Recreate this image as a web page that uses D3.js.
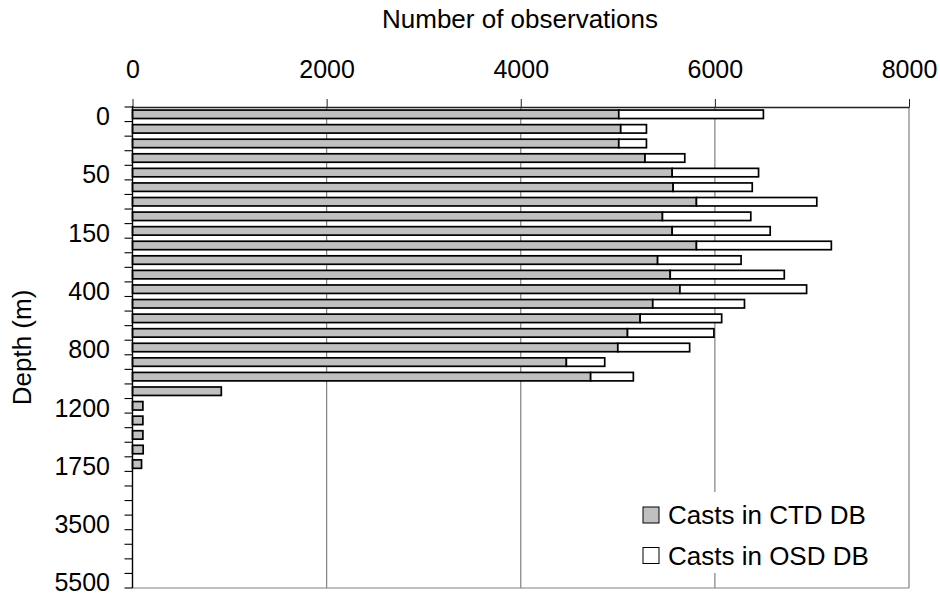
<!DOCTYPE html>
<html>
<head>
<meta charset="utf-8">
<script src="https://cdn.jsdelivr.net/npm/d3@7/dist/d3.min.js"></script>
<style>
  html, body { margin: 0; padding: 0; background: #fff; }
  svg { display: block; font-family: "Liberation Sans", Arial, sans-serif; }
</style>
</head>
<body>
<svg id="chart" width="940" height="595"></svg>
<script>
// Standard depth levels (m)
const depths = [0, 10, 20, 30, 50, 75, 100, 125, 150, 200, 250, 300, 400, 500, 600, 700,
  800, 900, 1000, 1100, 1200, 1300, 1400, 1500, 1750, 2000, 2500, 3000, 3500, 4000, 4500, 5000, 5500];
// Casts in CTD DB
const ctd = [5010, 5030, 5010, 5280, 5560, 5570, 5810, 5460, 5560, 5810, 5410, 5540, 5640, 5360, 5230, 5100,
  5000, 4470, 4720, 915, 107, 107, 107, 110, 93, 0, 0, 0, 0, 0, 0, 0, 0];
// Casts in OSD DB
const osd = [1490, 265, 285, 410, 890, 815, 1240, 910, 1010, 1390, 860, 1175, 1305, 945, 840, 890,
  740, 395, 440, 0, 0, 0, 0, 0, 0, 0, 0, 0, 0, 0, 0, 0, 0];
// Labelled depths on the vertical axis
const depthLabels = [0, 50, 150, 400, 800, 1200, 1750, 3500, 5500];
const xTicks = [0, 2000, 4000, 6000, 8000];
const seriesNames = ["Casts in CTD DB", "Casts in OSD DB"];
const seriesColors = ["#c0c0c0", "#ffffff"];

const svg = d3.select("#chart");
const L = 132.5, R = 909, T = 107, B = 588;

const x = d3.scaleLinear().domain([0, 8000]).range([L, R]);
const y = d3.scaleBand().domain(depths).range([T, B]).paddingInner(0.42).paddingOuter(0.21);
const yStep = d3.scaleBand().domain(depths).range([T, B]);

// gridlines
svg.append("g").selectAll("line").data(xTicks.slice(1)).join("line")
  .attr("x1", d => x(d)).attr("x2", d => x(d)).attr("y1", T).attr("y2", B)
  .attr("stroke", "#808080").attr("stroke-width", 1.2);
// bottom border
svg.append("line").attr("x1", L).attr("x2", R).attr("y1", B).attr("y2", B)
  .attr("stroke", "#808080").attr("stroke-width", 1.2);

// stacked data
const data = depths.map((d, i) => ({ depth: d, ctd: ctd[i], osd: osd[i] }));
const stack = d3.stack().keys(["ctd", "osd"]);
const series = stack(data);

svg.append("g").selectAll("g").data(series).join("g")
  .attr("fill", (s, i) => seriesColors[i])
  .selectAll("rect").data(s => s.filter(v => v[1] - v[0] > 0)).join("rect")
  .attr("x", v => x(v[0]))
  .attr("width", v => x(v[1]) - x(v[0]))
  .attr("y", v => y(v.data.depth))
  .attr("height", y.bandwidth())
  .attr("stroke", "#000").attr("stroke-width", 1.7);

// top axis
const axTop = svg.append("g").attr("transform", `translate(0,${T})`)
  .call(d3.axisTop(x).tickValues(xTicks).tickSize(8).tickPadding(21).tickSizeOuter(0).tickFormat(d3.format("d")));
axTop.select(".domain").attr("stroke", "#222").attr("stroke-width", 1.4);
axTop.selectAll(".tick line").attr("stroke", "#222").attr("stroke-width", 1);
axTop.selectAll("text").attr("font-size", 25).attr("fill", "#000")
  .attr("font-family", "'Liberation Sans', Arial, sans-serif");

// left axis line
svg.append("line").attr("x1", L).attr("x2", L).attr("y1", T - 1).attr("y2", B)
  .attr("stroke", "#000").attr("stroke-width", 1.4);
// left ticks at category boundaries
const bounds = depths.map(d => yStep(d)).concat([B]);
svg.append("g").selectAll("line").data(bounds).join("line")
  .attr("x1", L - 8).attr("x2", L).attr("y1", d => d).attr("y2", d => d)
  .attr("stroke", "#000").attr("stroke-width", 1.1);
// left labels
svg.append("g").selectAll("text").data(depthLabels).join("text")
  .attr("x", 110)
  .attr("y", d => yStep(d) + yStep.bandwidth() / 2 + 2)
  .attr("dy", "0.35em")
  .attr("text-anchor", "end")
  .attr("font-size", 25)
  .text(d => d);

// axis titles
svg.append("text").attr("x", 520).attr("y", 28).attr("text-anchor", "middle")
  .attr("font-size", 26).text("Number of observations");
svg.append("text").attr("transform", `translate(31,${(T + B) / 2}) rotate(-90)`)
  .attr("text-anchor", "middle").attr("font-size", 26).text("Depth (m)");

// legend
svg.append("rect").attr("x", 632).attr("y", 492).attr("width", 268).attr("height", 81).attr("fill", "#fff");
const lg = svg.append("g").selectAll("g").data(seriesNames).join("g")
  .attr("transform", (d, i) => `translate(643,${507 + i * 40.5})`);
lg.append("rect").attr("width", 16).attr("height", 16)
  .attr("fill", (d, i) => seriesColors[i]).attr("stroke", "#000").attr("stroke-width", 1);
lg.append("text").attr("x", 25).attr("y", 8).attr("dy", "0.36em")
  .attr("font-size", 26).text(d => d);
</script>
</body>
</html>
